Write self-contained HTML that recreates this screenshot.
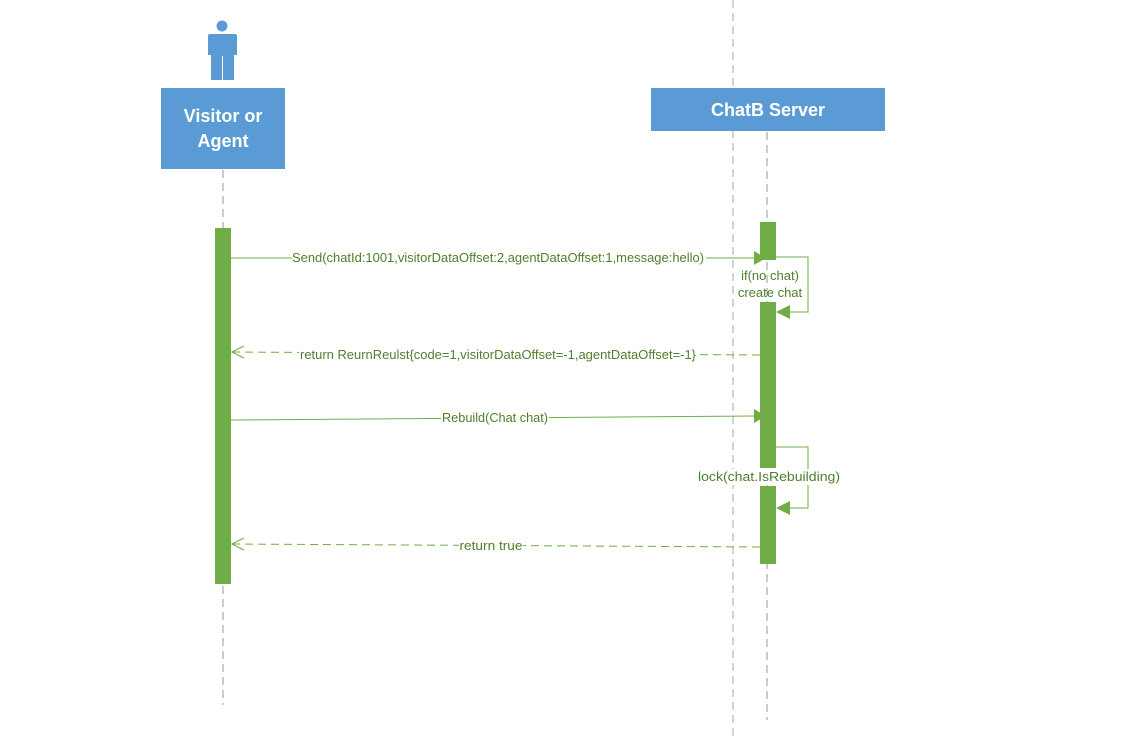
<!DOCTYPE html>
<html><head><style>body{margin:0;background:#fff}svg{display:block}</style></head><body>
<svg width="1138" height="736" viewBox="0 0 1138 736" xmlns="http://www.w3.org/2000/svg" font-family="Liberation Sans, sans-serif">
<rect width="1138" height="736" fill="#fff"/>
<line x1="733" y1="0" x2="733" y2="736" stroke="#aaa" stroke-dasharray="8,5"/>
<line x1="223" y1="170" x2="223" y2="705" stroke="#999" stroke-dasharray="8,5"/>
<line x1="767" y1="132" x2="767" y2="720" stroke="#999" stroke-dasharray="8,5"/>
<circle cx="222" cy="26" r="5.5" fill="#5B9BD5"/>
<path d="M210 34 H235 Q237 34 237 36 V55 H234 V80 H211 V55 H208 V36 Q208 34 210 34 Z" fill="#5B9BD5"/>
<line x1="222.5" y1="56" x2="222.5" y2="80" stroke="#fff" stroke-width="1"/>
<rect x="161" y="88" width="124" height="81" fill="#5B9BD5"/>
<text x="223" y="122" fill="#fff" font-size="18" font-weight="bold" text-anchor="middle">Visitor or</text>
<text x="223" y="147" fill="#fff" font-size="18" font-weight="bold" text-anchor="middle">Agent</text>
<rect x="651" y="88" width="234" height="43" fill="#5B9BD5"/>
<text x="768" y="116" fill="#fff" font-size="18" font-weight="bold" text-anchor="middle">ChatB Server</text>
<rect x="215" y="228" width="16" height="356" fill="#70AD47"/>
<rect x="760" y="222" width="16" height="38" fill="#70AD47"/>
<rect x="760" y="302" width="16" height="166" fill="#70AD47"/>
<rect x="760" y="486" width="16" height="78" fill="#70AD47"/>
<g stroke="#70AD47" fill="none" stroke-width="1">
<line x1="231" y1="258" x2="756" y2="258"/>
<polyline points="776,257 808,257 808,312 790,312"/>
<line x1="760" y1="355" x2="232" y2="352" stroke-dasharray="8,5"/>
<polyline points="244,346 232,352 244,358"/>
<line x1="231" y1="420" x2="756" y2="416"/>
<polyline points="776,447 808,447 808,508 790,508"/>
<line x1="760" y1="547" x2="232" y2="544" stroke-dasharray="8,5"/>
<polyline points="244,538 232,544 244,550"/>
</g>
<g fill="#70AD47">
<polygon points="754,251 766,258 754,265"/>
<polygon points="776,312 790,305 790,319"/>
<polygon points="754,409 766,416 754,423"/>
<polygon points="776,508 790,501 790,515"/>
</g>
<g font-size="13" fill="#4E7F2C" text-anchor="middle">
<rect x="292" y="250" width="414" height="16" fill="#fff"/>
<text x="498" y="262" textLength="412" lengthAdjust="spacingAndGlyphs">Send(chatId:1001,visitorDataOffset:2,agentDataOffset:1,message:hello)</text>
<text x="770" y="280">if(no chat)</text>
<text x="770" y="297">create chat</text>
<rect x="299" y="347" width="398" height="16" fill="#fff"/>
<text x="498" y="359" textLength="396" lengthAdjust="spacingAndGlyphs">return ReurnReulst{code=1,visitorDataOffset=-1,agentDataOffset=-1}</text>
<rect x="441" y="410" width="108" height="16" fill="#fff"/>
<text x="495" y="422" textLength="106" lengthAdjust="spacingAndGlyphs">Rebuild(Chat chat)</text>
<rect x="697" y="469" width="144" height="16" fill="#fff"/>
<text x="769" y="481" textLength="142" lengthAdjust="spacingAndGlyphs">lock(chat.IsRebuilding)</text>
<rect x="459" y="538" width="64" height="16" fill="#fff"/>
<text x="491" y="550" textLength="63" lengthAdjust="spacingAndGlyphs">return true</text>
</g>
</svg>
</body></html>
